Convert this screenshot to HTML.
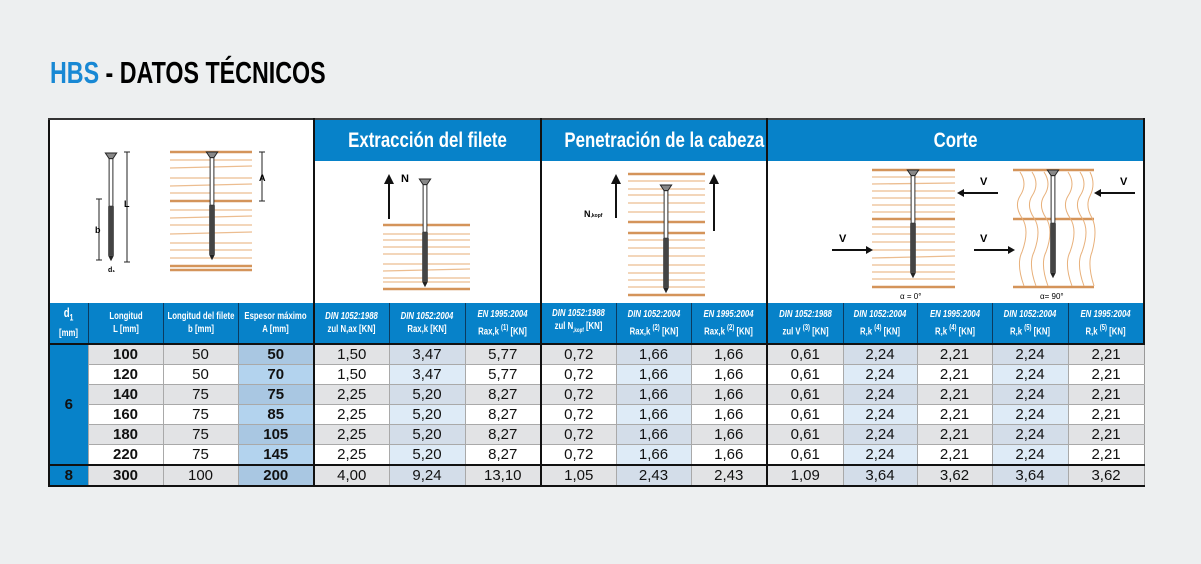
<!DOCTYPE html>
<html><head><meta charset="utf-8"><style>
body{margin:0;width:1201px;height:564px;background:#edeff0;position:relative;overflow:hidden;font-family:"Liberation Sans",sans-serif}
.title{position:absolute;left:50px;top:55px;font-size:31px;font-weight:bold;white-space:nowrap;transform:scaleX(.75);transform-origin:left top}
.title b{color:#1888d4}
table{position:absolute;left:48px;top:118px;border-collapse:collapse;table-layout:fixed;width:1095px}
td{padding:0;text-align:center;vertical-align:middle;overflow:visible}
.t{background:#0782c9;color:#fff;font-weight:bold;font-size:21px;height:41px;border-left:2px solid #111;border-right:2px solid #111;border-top:2px solid #444;white-space:nowrap}
.t div{transform:scaleX(.8)}
.img{background:#fff;border-left:2px solid #111;border-right:2px solid #111}
.h{background:#0782c9;color:#fff;font-weight:bold;font-size:10.5px;line-height:13px;height:40px;border-left:1px solid #0b3b60;border-bottom:2px solid #111}
.h div{width:200%;margin-left:-50%;transform:scaleX(.74);white-space:nowrap}
.h i{font-style:italic}
.d{font-size:15px;height:19px;border-left:1px solid #a9a9a9;border-bottom:1px solid #a9a9a9;color:#111}
.g td.d{background:#e2e3e5}
.w td.d{background:#fff}
.g td.bl{background:#a9c7e2}.w td.bl{background:#b3d3ee}
.g td.lb{background:#d3dde9}.w td.lb{background:#deebf7}
.bo{font-weight:bold}
.s{border-left:2px solid #111!important}
.dd{background:#0782c9;color:#111;font-weight:bold;font-size:15px;border-left:2px solid #111;border-bottom:2px solid #111}
.last td{border-top:2px solid #111;border-bottom:2px solid #111}
tr td:last-child.d{border-right:1px solid #999}
sup{font-size:8px}
</style></head><body>
<div class="title"><b>HBS</b> - DATOS TÉCNICOS</div>
<table>
<colgroup><col style="width:39px"><col style="width:75px"><col style="width:75px"><col style="width:76px"><col style="width:75px"><col style="width:76px"><col style="width:76px"><col style="width:75px"><col style="width:75px"><col style="width:76px"><col style="width:76px"><col style="width:74px"><col style="width:75px"><col style="width:76px"><col style="width:76px"></colgroup>
<tr><td colspan="4" rowspan="2" class="img" style="border-top:2px solid #333"></td>
<td colspan="3" class="t"><div>Extracción del filete</div></td>
<td colspan="3" class="t"><div>Penetración de la cabeza</div></td>
<td colspan="5" class="t"><div>Corte</div></td></tr>
<tr><td colspan="3" class="img" style="height:142px"></td><td colspan="3" class="img"></td><td colspan="5" class="img"></td></tr>
<tr>
<td class="h" style="border-left:2px solid #111;font-size:13px"><div>d<sub style="font-size:9px">1</sub><br><span style="font-size:10.5px">[mm]</span></div></td>
<td class="h"><div>Longitud<br>L [mm]</div></td>
<td class="h"><div>Longitud del filete<br>b [mm]</div></td>
<td class="h"><div>Espesor máximo<br>A [mm]</div></td>
<td class="h s"><div><i>DIN 1052:1988</i><br>zul N,ax [KN]</div></td>
<td class="h"><div><i>DIN 1052:2004</i><br>Rax,k [KN]</div></td>
<td class="h"><div><i>EN 1995:2004</i><br>Rax,k <sup>(1)</sup> [KN]</div></td>
<td class="h s"><div><i>DIN 1052:1988</i><br>zul N<sub style="font-size:6px">,kopf</sub> [KN]</div></td>
<td class="h"><div><i>DIN 1052:2004</i><br>Rax,k <sup>(2)</sup> [KN]</div></td>
<td class="h"><div><i>EN 1995:2004</i><br>Rax,k <sup>(2)</sup> [KN]</div></td>
<td class="h s"><div><i>DIN 1052:1988</i><br>zul V <sup>(3)</sup> [KN]</div></td>
<td class="h"><div><i>DIN 1052:2004</i><br>R,k <sup>(4)</sup> [KN]</div></td>
<td class="h"><div><i>EN 1995:2004</i><br>R,k <sup>(4)</sup> [KN]</div></td>
<td class="h"><div><i>DIN 1052:2004</i><br>R,k <sup>(5)</sup> [KN]</div></td>
<td class="h" style="border-right:2px solid #111"><div><i>EN 1995:2004</i><br>R,k <sup>(5)</sup> [KN]</div></td>
</tr>
<tr class="g"><td rowspan="6" class="dd">6</td><td class="d bo">100</td><td class="d">50</td><td class="d bl bo">50</td><td class="d s">1,50</td><td class="d lb">3,47</td><td class="d">5,77</td><td class="d s">0,72</td><td class="d lb">1,66</td><td class="d">1,66</td><td class="d s">0,61</td><td class="d lb">2,24</td><td class="d">2,21</td><td class="d lb">2,24</td><td class="d">2,21</td></tr>
<tr class="w"><td class="d bo">120</td><td class="d">50</td><td class="d bl bo">70</td><td class="d s">1,50</td><td class="d lb">3,47</td><td class="d">5,77</td><td class="d s">0,72</td><td class="d lb">1,66</td><td class="d">1,66</td><td class="d s">0,61</td><td class="d lb">2,24</td><td class="d">2,21</td><td class="d lb">2,24</td><td class="d">2,21</td></tr>
<tr class="g"><td class="d bo">140</td><td class="d">75</td><td class="d bl bo">75</td><td class="d s">2,25</td><td class="d lb">5,20</td><td class="d">8,27</td><td class="d s">0,72</td><td class="d lb">1,66</td><td class="d">1,66</td><td class="d s">0,61</td><td class="d lb">2,24</td><td class="d">2,21</td><td class="d lb">2,24</td><td class="d">2,21</td></tr>
<tr class="w"><td class="d bo">160</td><td class="d">75</td><td class="d bl bo">85</td><td class="d s">2,25</td><td class="d lb">5,20</td><td class="d">8,27</td><td class="d s">0,72</td><td class="d lb">1,66</td><td class="d">1,66</td><td class="d s">0,61</td><td class="d lb">2,24</td><td class="d">2,21</td><td class="d lb">2,24</td><td class="d">2,21</td></tr>
<tr class="g"><td class="d bo">180</td><td class="d">75</td><td class="d bl bo">105</td><td class="d s">2,25</td><td class="d lb">5,20</td><td class="d">8,27</td><td class="d s">0,72</td><td class="d lb">1,66</td><td class="d">1,66</td><td class="d s">0,61</td><td class="d lb">2,24</td><td class="d">2,21</td><td class="d lb">2,24</td><td class="d">2,21</td></tr>
<tr class="w"><td class="d bo">220</td><td class="d">75</td><td class="d bl bo">145</td><td class="d s">2,25</td><td class="d lb">5,20</td><td class="d">8,27</td><td class="d s">0,72</td><td class="d lb">1,66</td><td class="d">1,66</td><td class="d s">0,61</td><td class="d lb">2,24</td><td class="d">2,21</td><td class="d lb">2,24</td><td class="d">2,21</td></tr>
<tr class="g last"><td class="dd">8</td><td class="d bo">300</td><td class="d">100</td><td class="d bl bo">200</td><td class="d s">4,00</td><td class="d lb">9,24</td><td class="d">13,10</td><td class="d s">1,05</td><td class="d lb">2,43</td><td class="d">2,43</td><td class="d s">1,09</td><td class="d lb">3,64</td><td class="d">3,62</td><td class="d lb">3,64</td><td class="d">3,62</td></tr>
</table>
<svg width="1201" height="564" style="position:absolute;left:0;top:0" font-family="Liberation Sans" font-weight="bold">
<defs>
<g id="screw">
<path d="M-6,0 L6,0 L2,6 L-2,6 Z" fill="#888" stroke="#222" stroke-width="1"/>
<rect x="-2" y="6" width="4" height="50" fill="#fff" stroke="#222" stroke-width="1"/>
<rect x="-3" y="56" width="6" height="52" fill="#444"/>
<path d="M-3,108 L0,114 L3,108Z" fill="#222"/>
</g>
</defs>
<g stroke="#222" stroke-width="1" fill="none">
<line x1="127" y1="152" x2="127" y2="262"/><line x1="124" y1="152" x2="130" y2="152"/><line x1="124" y1="262" x2="130" y2="262"/>
<line x1="99" y1="199" x2="99" y2="260"/><line x1="96" y1="199" x2="102" y2="199"/><line x1="96" y1="260" x2="102" y2="260"/>
<line x1="262" y1="152" x2="262" y2="201"/><line x1="259" y1="152" x2="265" y2="152"/><line x1="259" y1="201" x2="265" y2="201"/>
</g>
<text x="124" y="207" font-size="9">L</text><text x="95" y="233" font-size="9">b</text><text x="259" y="181" font-size="9">A</text><text x="108" y="272" font-size="7">d₁</text>
<g transform="translate(111,153) scale(0.95)"><use href="#screw"/></g>
<g stroke="#ecbd90" stroke-width="1.3"><line x1="170" y1="160" x2="252" y2="160"/><line x1="170" y1="168" x2="252" y2="166"/><line x1="170" y1="178" x2="252" y2="178"/><line x1="170" y1="186" x2="252" y2="184"/><line x1="170" y1="193" x2="252" y2="193"/><line x1="170" y1="210" x2="252" y2="210"/><line x1="170" y1="218" x2="252" y2="216"/><line x1="170" y1="225" x2="252" y2="225"/><line x1="170" y1="234" x2="252" y2="232"/><line x1="170" y1="243" x2="252" y2="243"/><line x1="170" y1="250" x2="252" y2="250"/><line x1="170" y1="258" x2="252" y2="258"/></g>
<g stroke="#d4945a" stroke-width="2.5"><line x1="170" y1="152" x2="252" y2="152"/><line x1="170" y1="201" x2="252" y2="201"/><line x1="170" y1="266" x2="252" y2="266"/><line x1="170" y1="270" x2="252" y2="270"/></g>
<g transform="translate(212,152) scale(0.95)"><use href="#screw"/></g>
<line x1="389" y1="219" x2="389" y2="182" stroke="#111" stroke-width="2"/><path d="M384,184 L389,174 L394,184Z" fill="#111"/>
<text x="401" y="182" font-size="11">N</text>
<g stroke="#ecbd90" stroke-width="1.3"><line x1="383" y1="234" x2="470" y2="234"/><line x1="383" y1="240" x2="470" y2="240"/><line x1="383" y1="247" x2="470" y2="247"/><line x1="383" y1="254" x2="470" y2="254"/><line x1="383" y1="264" x2="470" y2="264"/><line x1="383" y1="271" x2="470" y2="269"/><line x1="383" y1="278" x2="470" y2="278"/><line x1="383" y1="282" x2="470" y2="282"/></g>
<g stroke="#d4945a" stroke-width="2.5"><line x1="383" y1="225" x2="470" y2="225"/><line x1="383" y1="289" x2="470" y2="289"/></g>
<g transform="translate(425,179) scale(0.95)"><use href="#screw"/></g>
<line x1="616" y1="218" x2="616" y2="182" stroke="#111" stroke-width="2"/><path d="M611,184 L616,174 L621,184Z" fill="#111"/>
<line x1="714" y1="231" x2="714" y2="182" stroke="#111" stroke-width="2"/><path d="M709,184 L714,174 L719,184Z" fill="#111"/>
<text x="584" y="217" font-size="9">N<tspan font-size="5">,kopf</tspan></text>
<g stroke="#ecbd90" stroke-width="1.3"><line x1="628" y1="181" x2="705" y2="181"/><line x1="628" y1="189" x2="705" y2="189"/><line x1="628" y1="195" x2="705" y2="195"/><line x1="628" y1="203" x2="705" y2="203"/><line x1="628" y1="212" x2="705" y2="212"/><line x1="628" y1="240" x2="705" y2="240"/><line x1="628" y1="248" x2="705" y2="248"/><line x1="628" y1="256" x2="705" y2="256"/><line x1="628" y1="265" x2="705" y2="265"/><line x1="628" y1="273" x2="705" y2="273"/><line x1="628" y1="280" x2="705" y2="280"/><line x1="628" y1="287" x2="705" y2="287"/></g>
<g stroke="#d4945a" stroke-width="2.5"><line x1="628" y1="174" x2="705" y2="174"/><line x1="628" y1="222" x2="705" y2="222"/><line x1="628" y1="233" x2="705" y2="233"/><line x1="628" y1="295" x2="705" y2="295"/></g>
<g transform="translate(666,185) scale(0.95)"><use href="#screw"/></g>
<g stroke="#ecbd90" stroke-width="1.3"><line x1="872" y1="177" x2="955" y2="177"/><line x1="872" y1="184" x2="955" y2="183"/><line x1="872" y1="191" x2="955" y2="191"/><line x1="872" y1="198" x2="955" y2="198"/><line x1="872" y1="205" x2="955" y2="205"/><line x1="872" y1="212" x2="955" y2="212"/><line x1="872" y1="227" x2="955" y2="227"/><line x1="872" y1="234" x2="955" y2="234"/><line x1="872" y1="242" x2="955" y2="242"/><line x1="872" y1="250" x2="955" y2="250"/><line x1="872" y1="258" x2="955" y2="256"/><line x1="872" y1="265" x2="955" y2="265"/><line x1="872" y1="272" x2="955" y2="272"/><line x1="872" y1="279" x2="955" y2="279"/></g>
<g stroke="#d4945a" stroke-width="2.5"><line x1="872" y1="170" x2="955" y2="170"/><line x1="872" y1="219" x2="955" y2="219"/><line x1="872" y1="287" x2="955" y2="287"/><line x1="1013" y1="170" x2="1094" y2="170"/><line x1="1013" y1="219" x2="1094" y2="219"/><line x1="1013" y1="287" x2="1094" y2="287"/></g>
<g stroke="#e8b07a" stroke-width="1" fill="none">
<path d="M1020,172 q8,12 0,24 q-6,10 2,22 q8,12 0,34 q-6,12 2,34"/>
<path d="M1032,172 q8,12 0,24 q-6,10 2,22 q8,12 0,34 q-6,12 2,34"/>
<path d="M1044,172 q8,12 0,24 q-6,10 2,22 q8,12 0,34 q-6,12 2,34"/>
<path d="M1068,172 q8,12 0,24 q-6,10 2,22 q8,12 0,34 q-6,12 2,34"/>
<path d="M1080,172 q8,12 0,24 q-6,10 2,22 q8,12 0,34 q-6,12 2,34"/>
<path d="M1090,172 q6,12 0,24 q-5,10 2,22 q6,12 0,34 q-5,12 2,34"/>
</g>
<g transform="translate(913,170) scale(0.95)"><use href="#screw"/></g>
<g transform="translate(1053,170) scale(0.95)"><use href="#screw"/></g>
<g fill="#111"><path d="M832,249 H866 V246 L873,250 L866,254 V251 H832Z"/><path d="M974,249 H1008 V246 L1015,250 L1008,254 V251 H974Z"/>
<path d="M998,192 H964 V189 L957,193 L964,197 V194 H998Z"/><path d="M1135,192 H1101 V189 L1094,193 L1101,197 V194 H1135Z"/></g>
<text x="839" y="242" font-size="11">V</text><text x="980" y="242" font-size="11">V</text><text x="980" y="185" font-size="11">V</text><text x="1120" y="185" font-size="11">V</text>
<text x="900" y="299" font-size="8" font-weight="normal">α = 0°</text><text x="1040" y="299" font-size="8" font-weight="normal">α= 90°</text>
</svg>
</body></html>
